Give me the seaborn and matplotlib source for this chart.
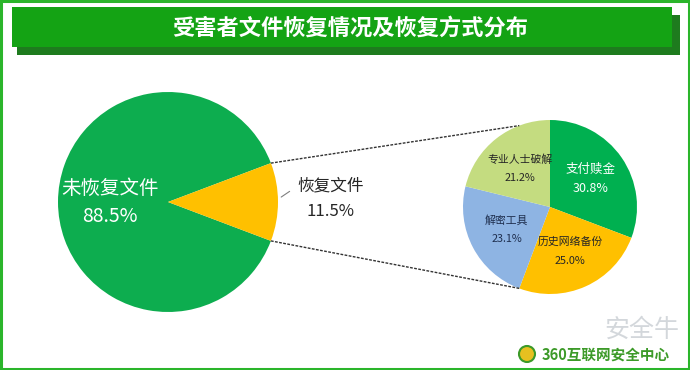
import numpy as np
import matplotlib.pyplot as plt
import seaborn as sns
from matplotlib.patches import Rectangle, Circle

sns.set_theme(style="white")
plt.rcParams['font.family'] = ['Noto Sans CJK SC', 'DejaVu Sans']

title = '受害者文件恢复情况及恢复方式分布'

main_labels = ['未恢复文件', '恢复文件']
main_values = [88.5, 11.5]
main_colors = ['#0DAD4F', '#FFC000']

method_labels = ['支付赎金', '历史网络备份', '解密工具', '专业人士破解']
method_values = [30.8, 25.0, 23.1, 21.2]
method_colors = ['#00B050', '#FFC000', '#8EB4E3', '#C4DC80']
method_text_colors = ['white', '#262626', '#1F2F4F', '#262626']

W, H = 690, 370
fig = plt.figure(figsize=(6.9, 3.7), dpi=100)
ax = fig.add_axes([0, 0, 1, 1])


def polar(center, r, deg):
    a = np.deg2rad(deg)
    return center[0] + r * np.cos(a), center[1] + r * np.sin(a)


# frame and title banner
ax.add_patch(Rectangle((1, 1), W - 2, H - 2, fill=False, edgecolor='#2BB52B', lw=2.2))
ax.add_patch(Rectangle((17, H - 55), 663, 40, color='#1E7B1E', lw=0))
ax.add_patch(Rectangle((12, H - 47), 660, 40, color='#14A314', lw=0))
ax.text(350, H - 28, title, color='white', fontsize=16, fontweight='bold',
        ha='center', va='center')

# main pie, recovered slice centred on the right
c1, r1 = (168, 168), 110
start1 = main_values[1] / sum(main_values) * 360 / 2
wedges1, _ = ax.pie(main_values, colors=main_colors, startangle=start1,
                    center=c1, radius=r1, wedgeprops=dict(linewidth=0))

w = wedges1[0]
mid = (w.theta1 + w.theta2) / 2
x, y = polar(c1, r1 * 0.53, mid)
ax.text(x, y + 14, main_labels[0], color='white', fontsize=14, ha='center', va='center')
ax.text(x, y - 14, f'{main_values[0]:.1f}%', color='white', fontsize=14, ha='center', va='center')

w = wedges1[1]
mid = (w.theta1 + w.theta2) / 2
x, y = polar(c1, r1 * 1.48, mid + 1.2)
ax.text(x, y + 13, main_labels[1], color='#262626', fontsize=12, ha='center', va='center')
ax.text(x, y - 13, f'{main_values[1]:.1f}%', color='#262626', fontsize=12, ha='center', va='center')
p0 = polar(c1, r1 * 1.03, mid + 2.5)
p1 = polar(c1, r1 * 1.11, mid + 5)
ax.plot([p0[0], p1[0]], [p0[1], p1[1]], color='#7F7F7F', lw=0.8)

# breakdown pie
c2, r2 = (550, 163), 87
wedges2, _ = ax.pie(method_values, colors=method_colors, startangle=90, counterclock=False,
                    center=c2, radius=r2, wedgeprops=dict(linewidth=0))
for w, lab, val, tc in zip(wedges2, method_labels, method_values, method_text_colors):
    mid = (w.theta1 + w.theta2) / 2
    x, y = polar(c2, r2 * 0.56, mid)
    fs = 9 if lab == '支付赎金' else 7.8
    ax.text(x, y + 9.5, lab, color=tc, fontsize=fs, ha='center', va='center')
    ax.text(x, y - 9.5, f'{val:.1f}%', color=tc, fontsize=fs, ha='center', va='center')

# connector lines
bottom_angle = wedges2[1].theta1
a_top = polar(c1, r1, wedges1[1].theta2)
a_bot = polar(c1, r1, wedges1[1].theta1)
b_top = polar(c2, r2, -bottom_angle)
b_bot = polar(c2, r2, bottom_angle)
for a, b in [(a_top, b_top), (a_bot, b_bot)]:
    ax.plot([a[0], b[0]], [a[1], b[1]], color='#333333', lw=1, linestyle=(0, (2, 1)))

# watermark / logo
ax.text(642, 40, '安全牛', color='#C9CED3', fontsize=18, ha='center', va='center', alpha=0.8)
ax.add_patch(Circle((527, 16), 8, facecolor='#E6C020', edgecolor='#3C9A28', lw=1.5))
ax.text(606, 15, '360互联网安全中心', color='#3C9A28', fontsize=10.5, fontweight='bold',
        ha='center', va='center')

ax.set_xlim(0, W)
ax.set_ylim(0, H)
ax.set_aspect('equal')
ax.axis('off')

fig.savefig('out.png', dpi=100, facecolor='white')
